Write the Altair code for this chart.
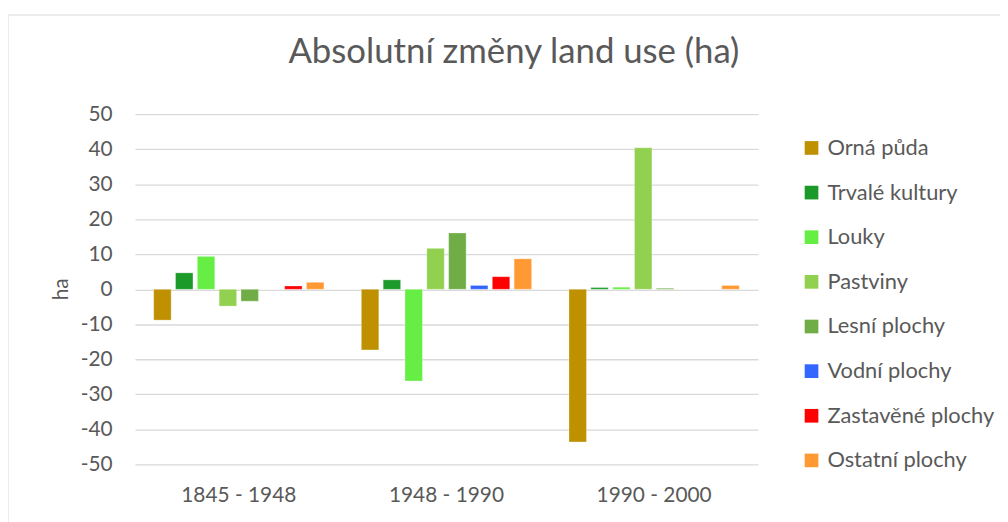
import altair as alt
import pandas as pd

periods = ["1845 - 1948", "1948 - 1990", "1990 - 2000"]
categories = ["Orná půda", "Trvalé kultury", "Louky", "Pastviny",
              "Lesní plochy", "Vodní plochy", "Zastavěné plochy", "Ostatní plochy"]
colors = ["#BF9000", "#1B9A2A", "#66EE44", "#92D050",
          "#70AD47", "#3366FF", "#FF0000", "#FF9933"]
values_1845_1948 = [-8.8, 4.7, 9.4, -4.8, -3.4, 0.0, 0.95, 2.0]
values_1948_1990 = [-17.3, 2.7, -26.2, 11.7, 16.1, 1.1, 3.6, 8.7]
values_1990_2000 = [-43.6, 0.5, 0.6, 40.4, 0.3, 0.0, 0.0, 1.1]
y_ticks = [-50, -40, -30, -20, -10, 0, 10, 20, 30, 40, 50]

rows = []
for p, vals in zip(periods, [values_1845_1948, values_1948_1990, values_1990_2000]):
    for c, v in zip(categories, vals):
        rows.append({"period": p, "category": c, "value": v})
df = pd.DataFrame(rows)

W, H = 628, 353
FONT = "Lato"
TXT = "#595959"

bars = alt.Chart(df).mark_bar(stroke="white", strokeWidth=0.5, strokeOpacity=0.6).encode(
    x=alt.X("period:N", sort=periods,
            scale=alt.Scale(paddingInner=0, paddingOuter=0),
            axis=alt.Axis(title=None, labelAngle=0, domain=False, ticks=False,
                          labelPadding=20, labelFontSize=21, labelColor=TXT,
                          labelFont=FONT, grid=False)),
    xOffset=alt.XOffset("category:N", sort=categories,
                        scale=alt.Scale(paddingInner=0.2, paddingOuter=0.857)),
    y=alt.Y("value:Q", scale=alt.Scale(domain=[-50, 50], nice=False),
            axis=alt.Axis(values=y_ticks, title="ha", domain=False, ticks=False,
                          labelExpr="datum.value < 0 ? '-' + abs(datum.value) : '' + datum.value",
                          labelPadding=23, labelFontSize=21, labelColor=TXT,
                          labelFont=FONT, grid=True, gridColor="#D9D9D9",
                          gridWidth=1.3, titleFont=FONT, titleFontSize=21,
                          titleFontWeight="normal", titleColor=TXT,
                          titleX=-64, titleY=176)),
    color=alt.Color("category:N", sort=categories,
                    scale=alt.Scale(domain=categories, range=colors),
                    legend=alt.Legend(title=None, orient="none", legendX=671, legendY=23,
                                      symbolType="square", symbolSize=190,
                                      symbolStrokeWidth=0, labelFontSize=22,
                                      labelFont=FONT, labelColor=TXT, labelLimit=300,
                                      labelOffset=5, rowPadding=23)),
)

frame = alt.Chart(pd.DataFrame({"a": [0]})).mark_rect(
    filled=False, stroke="#D9D9D9", strokeWidth=1, clip=False
).encode(x=alt.value(-128), x2=alt.value(900), y=alt.value(-100), y2=alt.value(440))

chart = alt.layer(bars, frame).properties(
    width=W, height=H,
    title=alt.TitleParams("Absolutní změny land use (ha)", font=FONT, fontSize=35,
                          fontWeight="normal", color=TXT, anchor="middle",
                          dx=68, baseline="alphabetic", offset=-84),
    autosize=alt.AutoSizeParams(type="none"),
    padding={"left": 128, "top": 105, "right": 244, "bottom": 56},
).configure_view(stroke=None)

chart.save("out.html", embed_options={"renderer": "svg", "actions": False})
